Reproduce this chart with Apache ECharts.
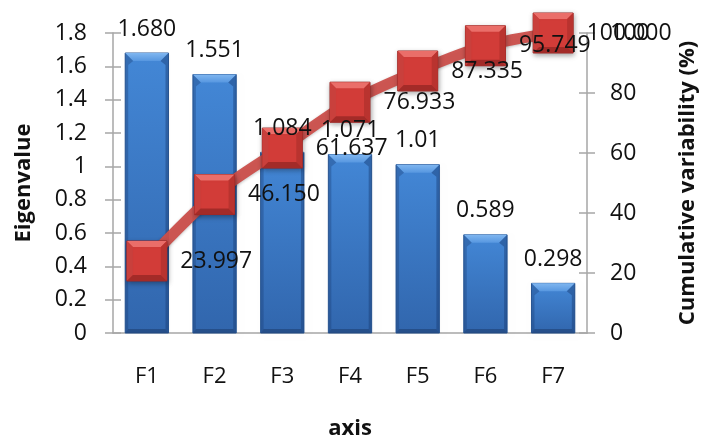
<!DOCTYPE html>
<html>
<head>
<meta charset="utf-8">
<script src="https://cdn.jsdelivr.net/npm/echarts@6/dist/echarts.min.js"></script>
<style>
  html, body { margin: 0; padding: 0; background: #ffffff; }
  #chart { width: 704px; height: 437px; }
</style>
</head>
<body>
<div id="chart"></div>
<script>
// Principal components
const categories = ['F1', 'F2', 'F3', 'F4', 'F5', 'F6', 'F7'];
// Eigenvalues as printed above the bars
const eigenLabels = ['1.680', '1.551', '1.084', '1.071', '1.01', '0.589', '0.298'];
// Cumulative variability (%) as printed beside the markers
const cumulativeLabels = ['23.997', '46.150', '61.637', '76.933', '87.335', '95.749', '100.000'];
// Tick labels
const leftTicks = ['0', '0.2', '0.4', '0.6', '0.8', '1', '1.2', '1.4', '1.6', '1.8'];
const rightTicks = ['0', '20', '40', '60', '80', '100'];

const eigenValues = eigenLabels.map(Number);
const cumulativeValues = cumulativeLabels.map(Number);

const FONT = '"Open Sans", "Noto Sans", sans-serif';
const AXIS_GREY = '#a6a6a6';
const TEXT = '#111111';
const TICK_FONT = 23;
const TITLE_FONT = 22;

const chart = echarts.init(document.getElementById('chart'), null, { renderer: 'canvas' });

// Bevelled bar: face with a light top chamfer, thin dark sides and a dark foot
function renderBar(params, api) {
  const idx = api.value(0);
  const top = api.coord([idx, api.value(1)]);
  const base = api.coord([idx, 0]);
  const band = api.size([1, 0])[0];
  const w = band * 0.64;
  const x0 = top[0] - w / 2, x1 = top[0] + w / 2;
  const y0 = top[1], y1 = base[1];
  const bt = 8, bs = 3, bb = 4;
  const face = new echarts.graphic.LinearGradient(0, 0, 0, 1, [
    { offset: 0, color: '#4387d6' },
    { offset: 1, color: '#3166ad' }
  ]);
  return {
    type: 'group',
    children: [
      { type: 'rect', shape: { x: x0 + 1, y: y0 + 2, width: w + 1, height: y1 - y0 - 2 },
        style: { fill: 'rgba(0,0,0,0.01)', shadowBlur: 5, shadowColor: 'rgba(0,0,0,0.35)', shadowOffsetX: 1, shadowOffsetY: 1 } },
      { type: 'rect', shape: { x: x0, y: y0, width: w, height: y1 - y0 },
        style: { fill: face, stroke: '#2d5b98', lineWidth: 1 } },
      { type: 'polygon', shape: { points: [[x0, y0], [x1, y0], [x1 - bt, y0 + bt], [x0 + bt, y0 + bt]] },
        style: { fill: new echarts.graphic.LinearGradient(0, 0, 0, 1, [
          { offset: 0, color: '#7fb6f0' }, { offset: 1, color: '#5797e0' }]) } },
      { type: 'polygon', shape: { points: [[x0, y0], [x0 + bt, y0 + bt], [x0 + bs, y0 + bt + 4], [x0 + bs, y1 - bb], [x0, y1]] },
        style: { fill: 'rgba(25,60,115,0.35)' } },
      { type: 'polygon', shape: { points: [[x1, y0], [x1 - bt, y0 + bt], [x1 - bs, y0 + bt + 4], [x1 - bs, y1 - bb], [x1, y1]] },
        style: { fill: 'rgba(25,60,115,0.45)' } },
      { type: 'polygon', shape: { points: [[x0, y1], [x0 + bs, y1 - bb], [x1 - bs, y1 - bb], [x1, y1]] },
        style: { fill: 'rgba(25,50,95,0.45)' } }
    ]
  };
}

// Bevelled square marker centred on the cumulative point
function renderMarker(params, api) {
  const p = api.coord([api.value(0), api.value(1)]);
  const s = 40, h = s / 2, b = 6;
  const x0 = p[0] - h, x1 = p[0] + h, y0 = p[1] - h, y1 = p[1] + h;
  return {
    type: 'group',
    children: [
      { type: 'rect', shape: { x: x0, y: y0, width: s, height: s },
        style: { fill: '#d23c38', stroke: '#9a2724', lineWidth: 1,
          shadowBlur: 5, shadowColor: 'rgba(0,0,0,0.35)', shadowOffsetX: 1, shadowOffsetY: 2 } },
      { type: 'polygon', shape: { points: [[x0, y0], [x1, y0], [x1 - b, y0 + b], [x0 + b, y0 + b]] },
        style: { fill: '#ea6e69' } },
      { type: 'polygon', shape: { points: [[x0, y0], [x0 + b, y0 + b], [x0 + b, y1 - b], [x0, y1]] },
        style: { fill: '#c9403c' } },
      { type: 'polygon', shape: { points: [[x1, y0], [x1 - b, y0 + b], [x1 - b, y1 - b], [x1, y1]] },
        style: { fill: '#b9332f' } },
      { type: 'polygon', shape: { points: [[x0, y1], [x0 + b, y1 - b], [x1 - b, y1 - b], [x1, y1]] },
        style: { fill: '#a32b28' } }
    ]
  };
}

const tickStyle = { color: AXIS_GREY, width: 1.5 };

const option = {
  backgroundColor: '#ffffff',
  animation: false,
  textStyle: { fontFamily: FONT },
  grid: { left: 113, right: 117, top: 33, bottom: 104, containLabel: false, outerBoundsMode: 'none' },
  xAxis: {
    type: 'category',
    data: categories,
    name: 'axis',
    nameLocation: 'middle',
    nameGap: 85,
    nameTextStyle: { fontFamily: FONT, fontSize: TITLE_FONT, fontWeight: 'bold', color: TEXT },
    axisLine: { show: true, lineStyle: { color: AXIS_GREY, width: 1.5 } },
    axisTick: { show: false },
    axisLabel: { fontFamily: FONT, fontSize: 22, color: TEXT, margin: 33 },
    splitLine: { show: false }
  },
  yAxis: [
    {
      type: 'value', position: 'left', min: 0, max: 1.8, interval: 0.2,
      name: 'Eigenvalue', nameLocation: 'middle', nameGap: 78, nameRotate: 90,
      nameTextStyle: { fontFamily: FONT, fontSize: TITLE_FONT, fontWeight: 'bold', color: TEXT },
      axisLine: { show: true, lineStyle: { color: AXIS_GREY, width: 1.5 } },
      axisTick: { show: true, inside: false, length: 8, lineStyle: tickStyle },
      axisLabel: {
        fontFamily: FONT, fontSize: TICK_FONT, color: TEXT, margin: 26,
        formatter: (v) => leftTicks[Math.round(v / 0.2)]
      },
      splitLine: { show: false }
    },
    {
      type: 'value', position: 'right', min: 0, max: 100, interval: 20,
      name: 'Cumulative variability (%)', nameLocation: 'middle', nameGap: 90, nameRotate: 90,
      nameTextStyle: { fontFamily: FONT, fontSize: TITLE_FONT, fontWeight: 'bold', color: TEXT },
      axisLine: { show: true, lineStyle: { color: AXIS_GREY, width: 1.5 } },
      axisTick: { show: true, inside: false, length: 8, lineStyle: tickStyle },
      axisLabel: {
        fontFamily: FONT, fontSize: TICK_FONT, color: TEXT, margin: 23,
        formatter: (v) => rightTicks[Math.round(v / 20)]
      },
      splitLine: { show: false }
    },
    // inner halves of the crossing tick marks
    {
      type: 'value', position: 'left', min: 0, max: 1.8, interval: 0.2,
      axisLine: { show: false }, axisLabel: { show: false }, splitLine: { show: false },
      axisTick: { show: true, inside: true, length: 8, lineStyle: tickStyle }
    },
    {
      type: 'value', position: 'right', min: 0, max: 100, interval: 20,
      axisLine: { show: false }, axisLabel: { show: false }, splitLine: { show: false },
      axisTick: { show: true, inside: true, length: 8, lineStyle: tickStyle }
    }
  ],
  series: [
    {
      name: 'Eigenvalue',
      type: 'custom',
      yAxisIndex: 0,
      renderItem: renderBar,
      encode: { x: 0, y: 1 },
      data: eigenValues.map((v, i) => [i, v]),
      z: 2
    },
    {
      name: 'Cumulative variability (%)',
      type: 'line',
      yAxisIndex: 1,
      data: cumulativeValues,
      smooth: 0.3,
      symbol: 'none',
      lineStyle: {
        color: '#cb4f4b',
        width: 11,
        opacity: 0.95,
        shadowColor: 'rgba(0,0,0,0.25)',
        shadowBlur: 3,
        shadowOffsetY: 1
      },
      z: 3
    },
    {
      name: 'markers',
      type: 'custom',
      yAxisIndex: 1,
      renderItem: renderMarker,
      encode: { x: 0, y: 1 },
      data: cumulativeValues.map((v, i) => [i, v]),
      z: 4
    },
    // value labels drawn above everything
    {
      name: 'eigen labels',
      type: 'scatter',
      yAxisIndex: 0,
      data: eigenValues,
      symbolSize: 1,
      itemStyle: { color: 'transparent', opacity: 1 },
      emphasis: { disabled: true },
      label: {
        show: true, position: 'top', distance: 12, opacity: 1,
        fontFamily: FONT, fontSize: TICK_FONT, color: TEXT,
        formatter: (p) => eigenLabels[p.dataIndex]
      },
      z: 10
    },
    {
      name: 'cumulative labels',
      type: 'scatter',
      yAxisIndex: 1,
      data: cumulativeValues,
      symbolSize: 1,
      itemStyle: { color: 'transparent', opacity: 1 },
      emphasis: { disabled: true },
      label: {
        show: true, position: 'right', distance: 33, opacity: 1,
        fontFamily: FONT, fontSize: TICK_FONT, color: TEXT,
        formatter: (p) => cumulativeLabels[p.dataIndex]
      },
      z: 10
    }
  ]
};

chart.setOption(option);
</script>
</body>
</html>
